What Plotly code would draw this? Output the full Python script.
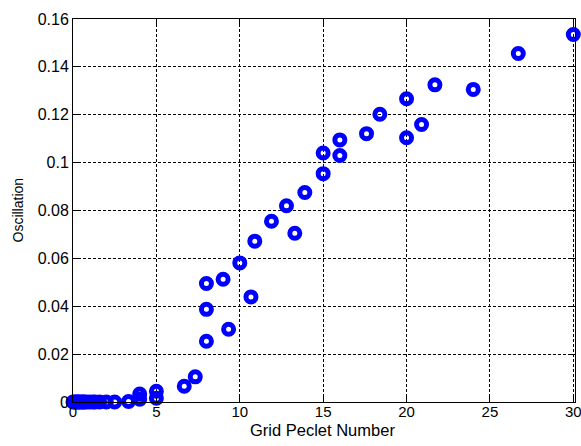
import plotly.graph_objects as go

# Data
peclet = [0.0, 0.1, 0.2, 0.25, 0.33, 0.4, 0.5, 0.6, 0.67, 0.8, 1.0, 1.2, 1.33, 1.6,
          2.0, 2.5, 3.33, 4.0, 4.0, 5.0, 5.0, 6.67, 7.33, 8.0, 8.0, 8.0, 9.0, 9.33,
          10.0, 10.67, 10.9, 11.9, 12.8, 13.3, 13.9, 15.0, 15.0, 16.0, 16.0, 17.6,
          18.4, 20.0, 20.0, 20.9, 21.7, 24.0, 26.7, 30.0]
oscillation = [0.0, 0.0, 0.0, 0.0, 0.0, 0.0, 0.0, 0.0, 0.0, 0.0, 0.0, 0.0, 0.0, 0.0,
               0.0, 0.0, 0.0002, 0.0033, 0.0012, 0.0045, 0.0016, 0.0066, 0.0105, 0.0495,
               0.0387, 0.0254, 0.0513, 0.0304, 0.0581, 0.0439, 0.0672, 0.0755, 0.082,
               0.0705, 0.0875, 0.104, 0.0954, 0.1095, 0.103, 0.1121, 0.1202, 0.1267,
               0.1104, 0.1159, 0.1325, 0.1306, 0.1456, 0.1535]

x_ticks = [0, 5, 10, 15, 20, 25, 30]
y_ticks = [0, 0.02, 0.04, 0.06, 0.08, 0.1, 0.12, 0.14, 0.16]
y_tick_text = ["0", "0.02", "0.04", "0.06", "0.08", "0.1", "0.12", "0.14", "0.16"]

font_family = "Liberation Sans, Arial, sans-serif"

W, H = 581, 446
ML, MR, MT, MB = 73, 6, 19, 44
PW, PH = W - ML - MR, H - MT - MB

fig = go.Figure()
fig.add_trace(go.Scatter(
    x=peclet, y=oscillation, mode="markers",
    marker=dict(symbol="circle-open", size=10, color="#0000ff",
                line=dict(width=5, color="#0000ff")),
    cliponaxis=False, showlegend=False, hoverinfo="skip",
))

axis_common = dict(
    showline=True, linecolor="black", linewidth=1, mirror="allticks",
    ticks="inside", ticklen=5, tickcolor="black", tickwidth=1,
    showgrid=True, gridcolor="black", gridwidth=1, griddash="3px,2px",
    zeroline=False, automargin=False, ticklabeloverflow="allow",
)

fig.update_xaxes(range=[0, 30.1], tickvals=x_ticks,
                 ticktext=[str(v) for v in x_ticks], ticklabelstandoff=-4,
                 tickfont=dict(family=font_family, size=15, color="black"),
                 **axis_common)
fig.update_yaxes(range=[0, 0.16], tickvals=y_ticks, ticktext=y_tick_text,
                 tickfont=dict(family=font_family, size=16, color="black"),
                 **axis_common)

fig.add_annotation(text="Grid Peclet Number", xref="paper", yref="paper",
                   x=(322 - ML) / PW, y=-(430 - (H - MB)) / PH,
                   xanchor="center", yanchor="middle", showarrow=False,
                   font=dict(family=font_family, size=16.5, color="black"))
fig.add_annotation(text="Oscillation", xref="paper", yref="paper",
                   x=-(ML - 17) / PW, y=0.5, textangle=-90,
                   xanchor="center", yanchor="middle", showarrow=False,
                   font=dict(family=font_family, size=14, color="black"))

fig.update_layout(
    width=W, height=H,
    margin=dict(l=ML, r=MR, t=MT, b=MB),
    paper_bgcolor="white", plot_bgcolor="white",
    font=dict(family=font_family, color="black"),
    hovermode=False,
)

fig.write_html("out.html", config={"displayModeBar": False, "staticPlot": True},
               post_script="document.body.style.margin='0';document.body.style.overflow='hidden';")
